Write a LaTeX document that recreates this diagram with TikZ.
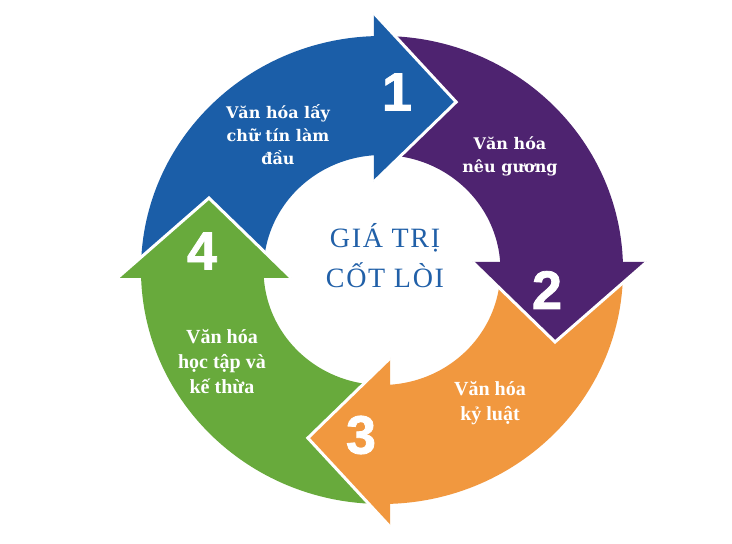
\documentclass[tikz,border=0pt]{standalone}
\usepackage{fontspec}
\setmainfont{Liberation Serif}
\newfontfamily\wideserif{DejaVu Serif}
\newfontfamily\numfont[FakeBold=1.5]{Liberation Sans Bold}
\usepackage{tikz}
\usetikzlibrary{positioning, calc}
\definecolor{blueseg}{HTML}{1B5EA8}
\definecolor{purpleseg}{HTML}{4E2370}
\definecolor{orangeseg}{HTML}{F1983F}
\definecolor{greenseg}{HTML}{68AA3C}
\definecolor{coretext}{HTML}{2160A8}
\tikzstyle{ring} = [shift={(382,274)}, xscale=1.03]
\tikzstyle{headgap} = [draw=white, line width=3pt]
\tikzstyle{segtext} = [text=white, align=center, font=\wideserif\bfseries\fontsize{16}{23}\selectfont]
\tikzstyle{segtextb} = [text=white, align=center, font=\bfseries\fontsize{20}{25}\selectfont]
\tikzstyle{stepnum} = [text=white, font=\numfont\fontsize{54}{54}\selectfont]

\begin{document}
\begin{tikzpicture}[x=1pt, y=1pt]
    \fill[white] (0,0) rectangle (732,544);
    \useasboundingbox (0,0) rectangle (732,544);

    % ring bodies
    \foreach \ang/\col in {90/blueseg, 0/purpleseg, -90/orangeseg, 180/greenseg} {
      \begin{scope}[ring, rotate=\ang]
        \fill[\col] (-4,233.97) arc[start angle=90.98, end angle=0.98, radius=234pt]
          -- (114.98,2) arc[start angle=1.0, end angle=91.99, radius=115pt] -- cycle;
      \end{scope}
    }
    % arrow heads
    \foreach \ang/\col in {90/blueseg, 0/purpleseg, -90/orangeseg, 180/greenseg} {
      \begin{scope}[ring, rotate=\ang]
        \fill[\col] (88,8) -- (257,8) -- (168,-72) -- cycle;
        \draw[headgap] (88,8) -- (168,-72) -- (257,8);
      \end{scope}
    }

    \node (core) [text=coretext, align=center, font=\fontsize{28}{40}\selectfont\addfontfeatures{LetterSpace=6}] at (385,288) {GIÁ TRỊ\\CỐT LÒI};

    \node (num1) [stepnum] at (397,452) {1};
    \node (num2) [stepnum] at (547,254) {2};
    \node (num3) [stepnum] at (361,109) {3};
    \node (num4) [stepnum] at (202,293) {4};

    \node (trust) [segtext] at (278,409) {Văn hóa lấy\\chữ tín làm\\đầu};
    \node (model) [segtext] at (510,388) {Văn hóa\\nêu gương};
    \node (discipline) [segtextb] at (490,141) {Văn hóa\\kỷ luật};
    \node (learning) [segtextb] at (222,182) {Văn hóa\\học tập và\\kế thừa};
\end{tikzpicture}
\end{document}
